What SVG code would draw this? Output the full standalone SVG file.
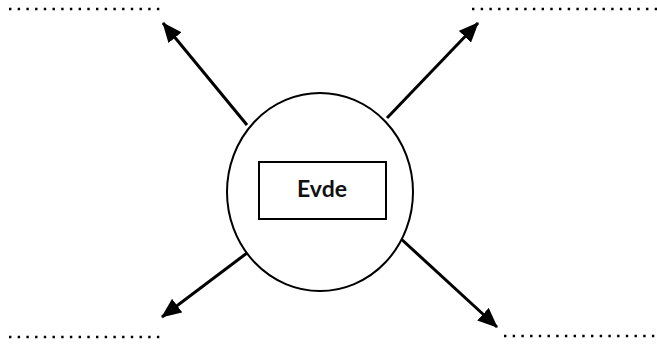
<svg xmlns="http://www.w3.org/2000/svg" width="657" height="345" viewBox="0 0 657 345">
<style>
.dots{stroke:#000;stroke-width:2.4;stroke-dasharray:2.4 6.3;fill:none}
.arr{stroke:#000;stroke-width:3;fill:none;marker-end:url(#ah)}
.shape{fill:#fff;stroke:#000;stroke-width:2}
.lbl{font-family:Lato,"Open Sans",sans-serif;font-weight:bold;font-size:23px;fill:#111;text-anchor:middle}
</style>
<defs>
<marker id="ah" markerUnits="userSpaceOnUse" markerWidth="20" markerHeight="17" viewBox="0 0 20 17" refX="19" refY="8.5" orient="auto">
<path d="M0,0 L20,8.5 L0,17 Z" fill="#000"/>
</marker>
</defs>
<rect width="657" height="345" fill="#fff"/>
<g id="placeholders">
<line class="dots" x1="9" y1="9" x2="160" y2="9"/>
<line class="dots" x1="472" y1="9" x2="657" y2="9"/>
<line class="dots" x1="9" y1="337" x2="160" y2="337"/>
<line class="dots" x1="504" y1="336" x2="657" y2="336"/>
</g>
<g id="connectors">
<line class="arr" x1="247" y1="125" x2="163" y2="23"/>
<line class="arr" x1="387" y1="118" x2="478" y2="23"/>
<line class="arr" x1="251" y1="250" x2="162" y2="317"/>
<line class="arr" x1="399" y1="237" x2="497" y2="327"/>
</g>
<g id="home">
<ellipse class="shape" cx="320" cy="192" rx="93" ry="99"/>
<rect class="shape" x="259" y="162" width="127" height="57"/>
<text class="lbl" x="322" y="197">Evde</text>
</g>
</svg>
